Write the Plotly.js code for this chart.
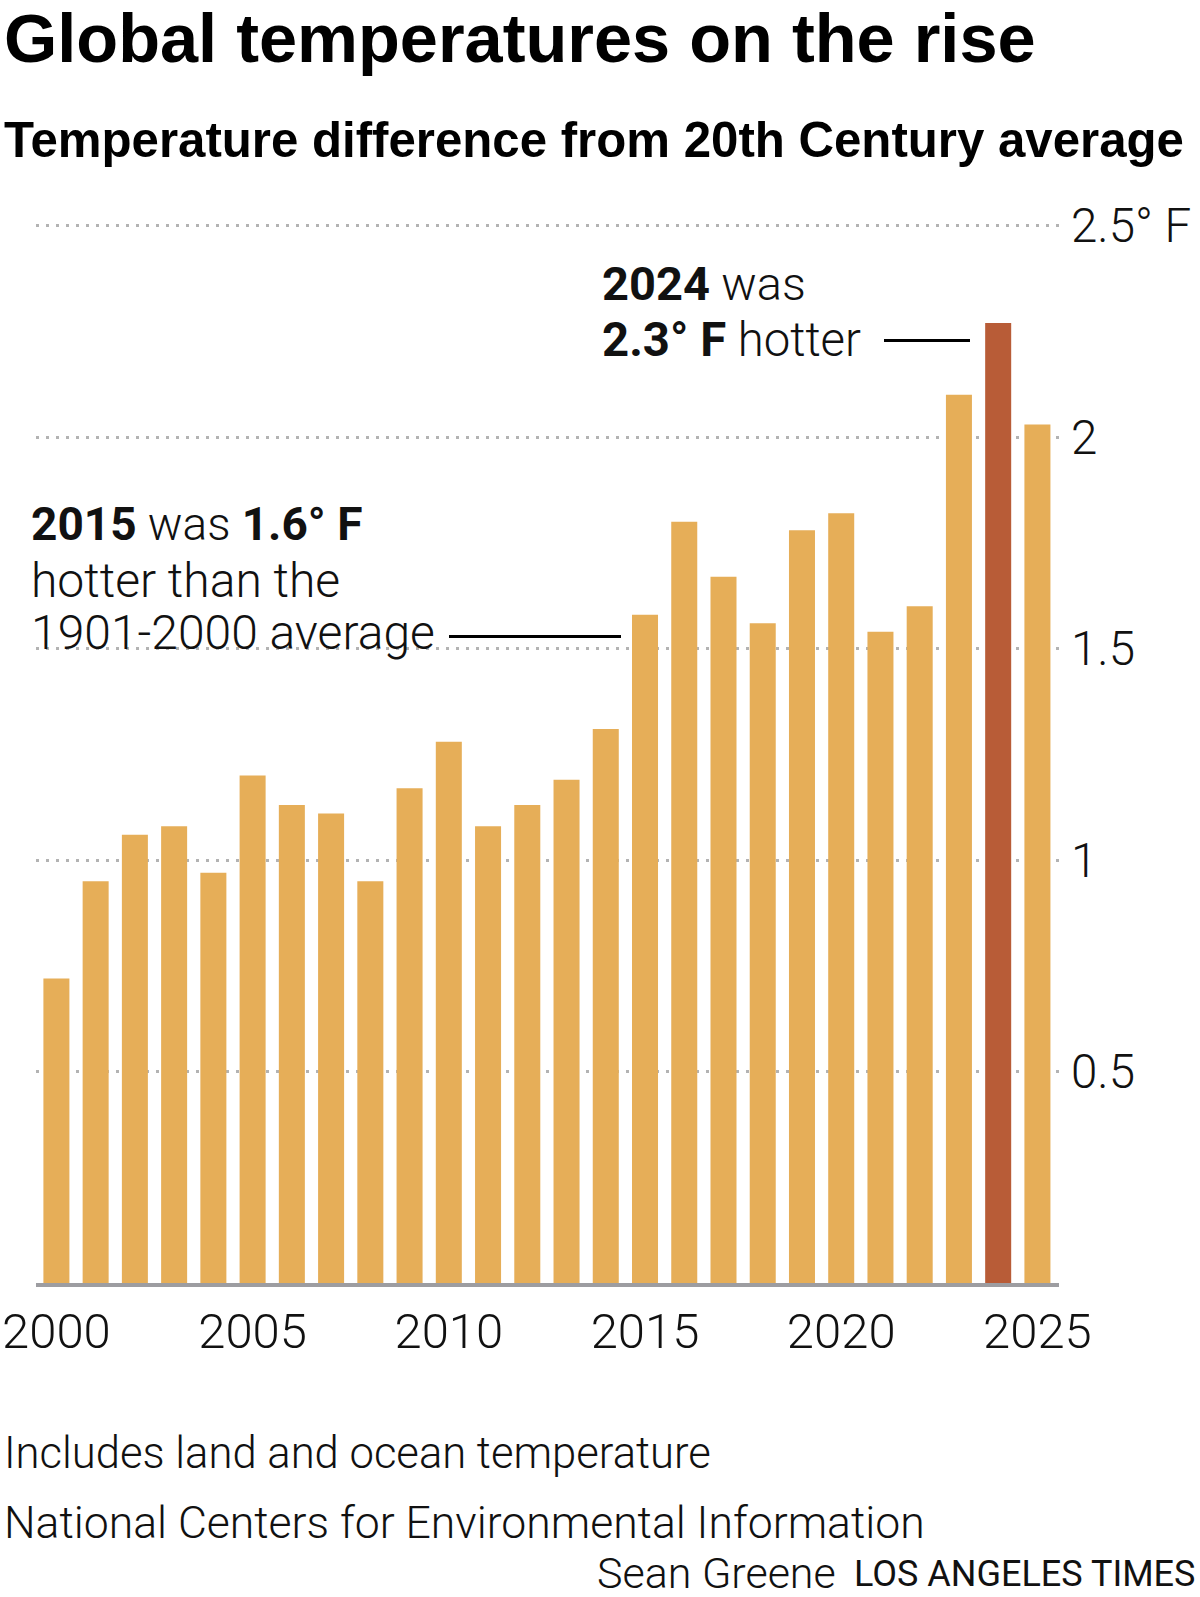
<!DOCTYPE html>
<html>
<head>
<meta charset="utf-8">
<script src="https://cdn.plot.ly/plotly-3.0.1.min.js"></script>
<style>
  html, body { margin: 0; padding: 0; background: #fff; }
  #chart { width: 1200px; height: 1597px; }
</style>
</head>
<body>
<div id="chart"></div>
<script>
// ---- Data ----
const years = [2000, 2001, 2002, 2003, 2004, 2005, 2006, 2007, 2008, 2009,
               2010, 2011, 2012, 2013, 2014, 2015, 2016, 2017, 2018, 2019,
               2020, 2021, 2022, 2023, 2024, 2025];
const anomalies = [0.72, 0.95, 1.06, 1.08, 0.97, 1.20, 1.13, 1.11, 0.95, 1.17,
                   1.28, 1.08, 1.13, 1.19, 1.31, 1.58, 1.80, 1.67, 1.56, 1.78,
                   1.82, 1.54, 1.60, 2.10, 2.27, 2.03];
const highlightYear = 2024;
const xTickVals = [2000, 2005, 2010, 2015, 2020, 2025];
const xTickText = ['2000', '2005', '2010', '2015', '2020', '2025'];
const yTickVals = [0.5, 1, 1.5, 2, 2.5];
const yTickText = ['0.5', '1', '1.5', '2', '2.5° F'];

// ---- Styling ----
const barColor = '#E6AE58';
const highColor = '#B85C37';
const colors = years.map(y => y === highlightYear ? highColor : barColor);

// plot area in pixels
const L = 36, R = 1059, T = 224, B = 1283, W = 1200, H = 1597;
const px = x => (x - L) / (R - L);
const py = y => (B - y) / (B - T);

const lightFont = {family: 'Roboto, "Open Sans", sans-serif', weight: 300, color: '#111'};

function ann(text, x, y, size, opts) {
  return Object.assign({
    text: text, xref: 'paper', yref: 'paper', x: px(x), y: py(y),
    xanchor: 'left', yanchor: 'middle', showarrow: false,
    font: Object.assign({}, lightFont, {size: size})
  }, opts || {});
}

const annotations = [
  ann('Global temperatures on the rise', 2, 38, 68.5,
      {font: {family: '"Liberation Sans", Arial, sans-serif', weight: 700, size: 68.5, color: '#000'}}),
  ann('Temperature difference from 20th Century average', 2, 140, 49.2,
      {font: {family: '"Liberation Sans", Arial, sans-serif', weight: 700, size: 49.2, color: '#000'}}),
  ann('<b>2024</b> was', 600, 283, 47),
  ann('<b>2.3° F</b> hotter', 600, 340, 47.3),
  ann('<b>2015</b> was <b>1.6° F</b>', 29, 524, 46),
  ann('hotter than the', 29, 580, 48),
  ann('1901-2000 average', 29, 632, 48),
  ann('Includes land and ocean temperature', 2, 1453, 43.6),
  ann('National Centers for Environmental Information', 2, 1523, 44.5),
  ann('Sean Greene', 838, 1573, 43, {xanchor: 'right'}),
  ann('LOS ANGELES TIMES', 1197, 1574, 36,
      {xanchor: 'right', font: {family: 'Roboto, sans-serif', weight: 400, size: 36, color: '#111'}})
];

const shapes = [
  {type: 'line', xref: 'paper', yref: 'paper', x0: px(884), x1: px(970), y0: py(340.5), y1: py(340.5),
   line: {color: '#000', width: 3}},
  {type: 'line', xref: 'paper', yref: 'paper', x0: px(449), x1: px(621), y0: py(636.5), y1: py(636.5),
   line: {color: '#000', width: 3}}
];

const trace = {
  type: 'bar', x: years, y: anomalies,
  marker: {color: colors, line: {width: 0}},
  hoverinfo: 'x+y'
};

const layout = {
  width: W, height: H,
  margin: {l: L, r: W - R, t: T, b: H - B, pad: 0},
  paper_bgcolor: '#fff', plot_bgcolor: '#fff',
  bargap: 0.337,
  showlegend: false,
  xaxis: {
    range: [1999.48, 2025.55], tickvals: xTickVals, ticktext: xTickText,
    showgrid: false, zeroline: false, showline: true, linecolor: '#9d9da1', linewidth: 4,
    ticks: '', ticklabelstandoff: 2,
    tickfont: {family: 'Roboto, sans-serif', weight: 300, size: 49, color: '#111'},
    fixedrange: true
  },
  yaxis: {
    range: [0, 2.504], side: 'right', tickvals: yTickVals, ticktext: yTickText,
    showgrid: true, gridcolor: '#b3b3b3', gridwidth: 3, griddash: '3px,7px',
    zeroline: false, showline: false, ticks: '', ticklabelstandoff: 11,
    tickfont: {family: 'Roboto, sans-serif', weight: 300, size: 47.5, color: '#111'},
    fixedrange: true
  },
  annotations: annotations,
  shapes: shapes
};

Plotly.newPlot('chart', [trace], layout, {displayModeBar: false, staticPlot: true});
</script>
</body>
</html>
